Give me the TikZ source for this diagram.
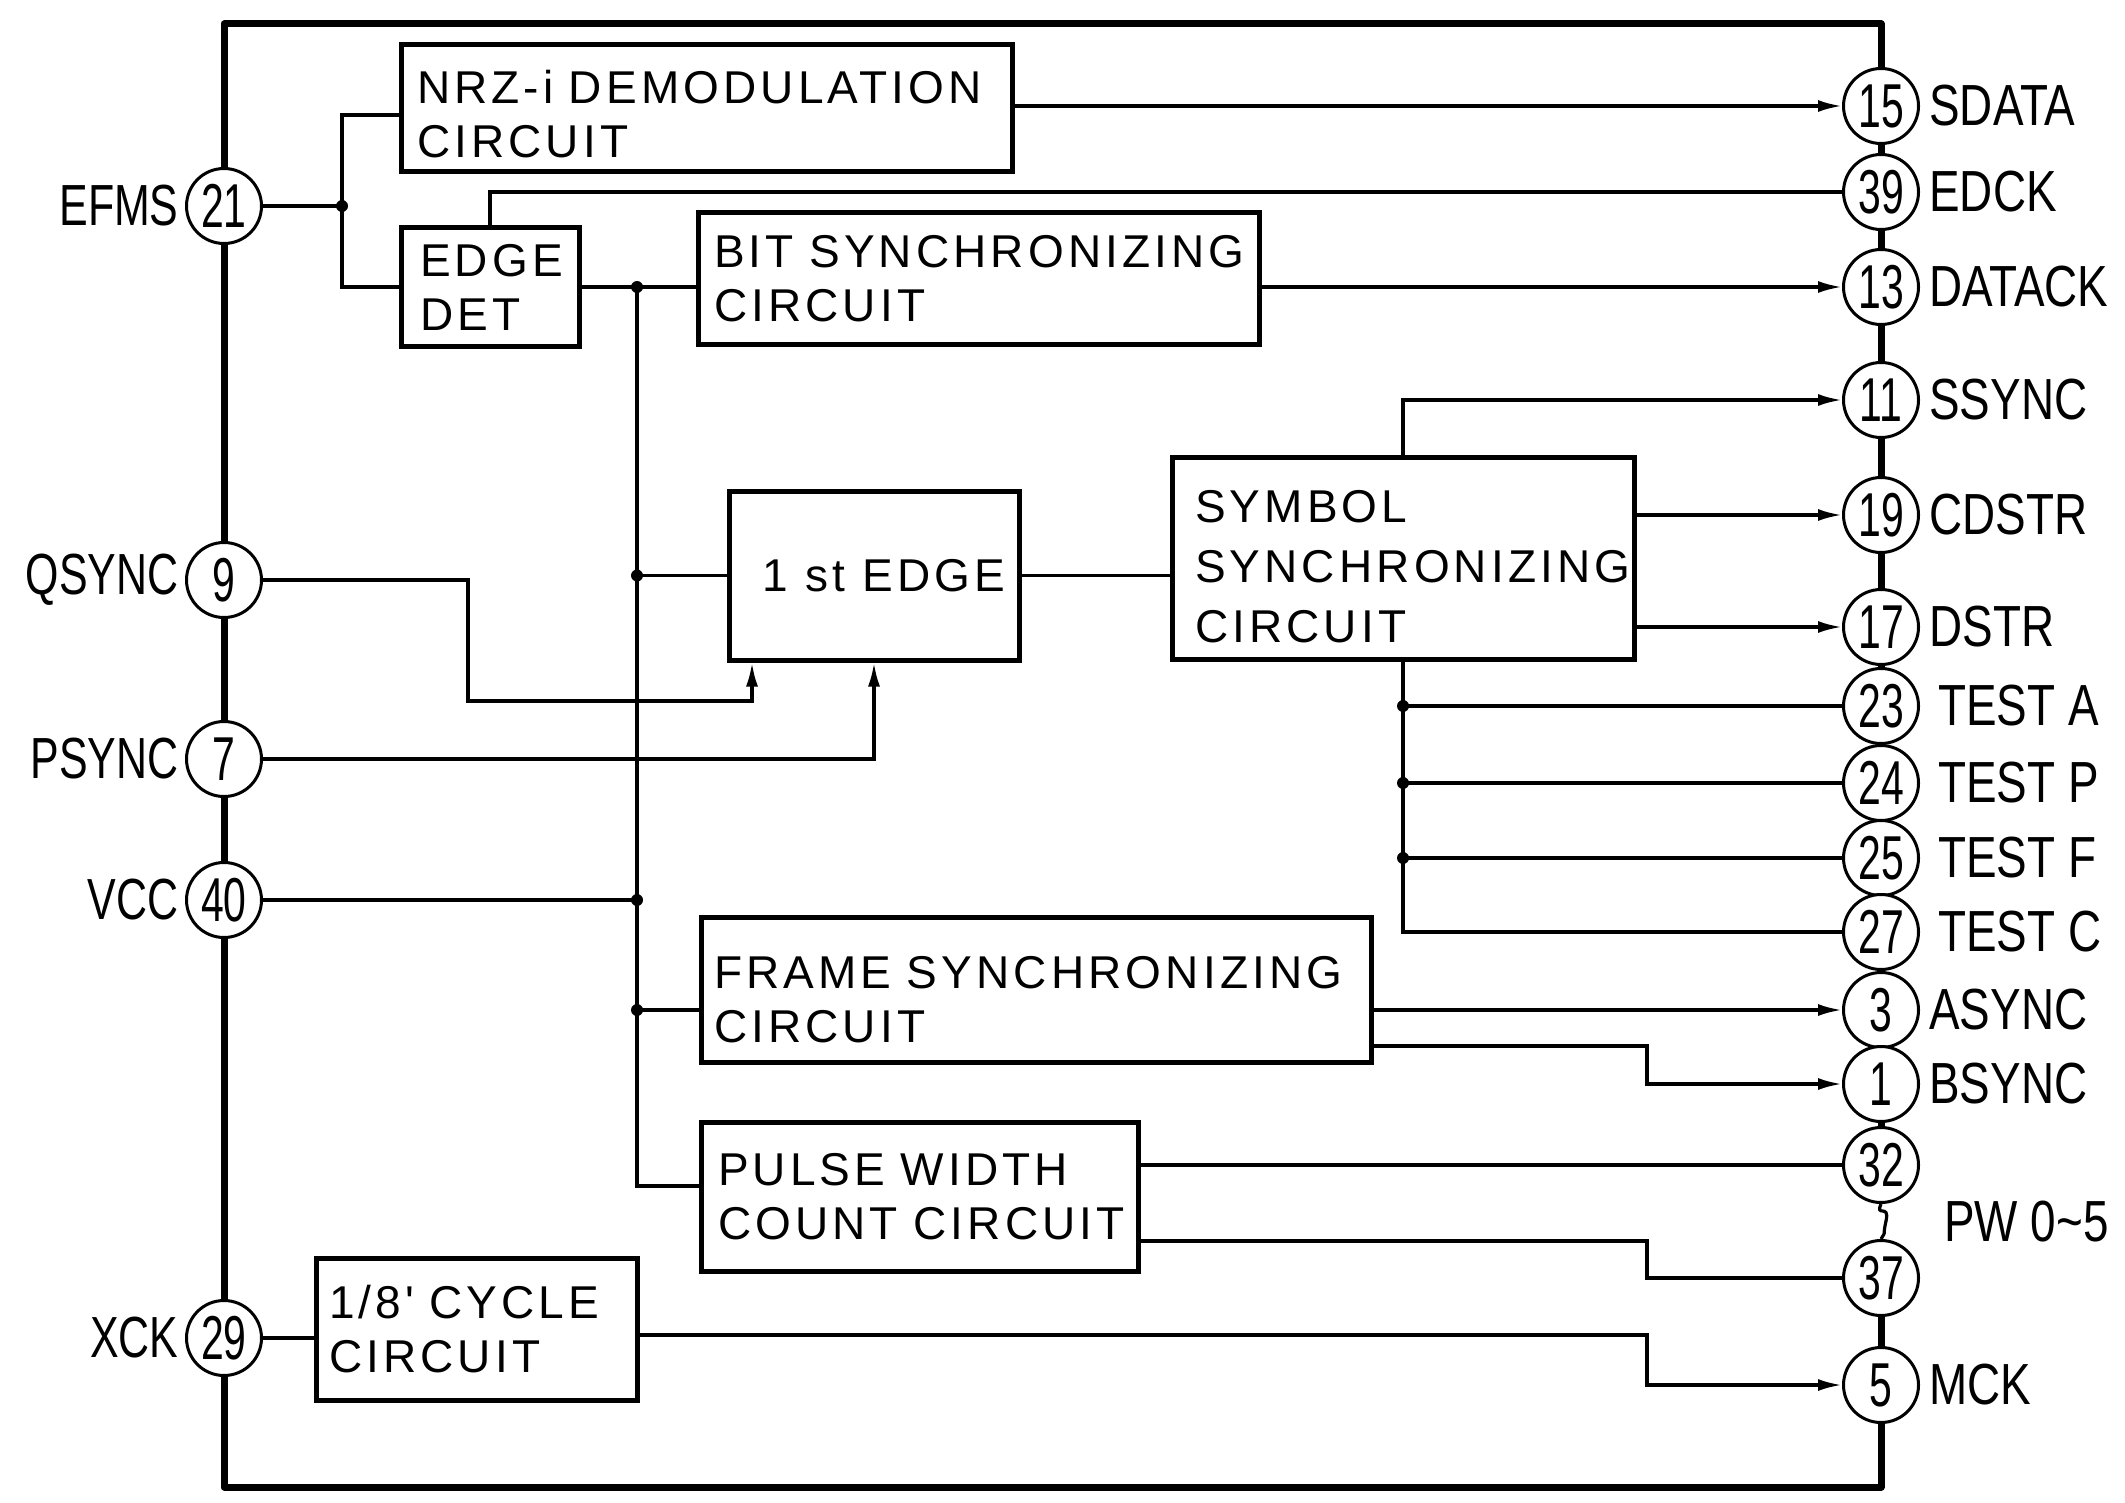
\documentclass[tikz,border=0pt]{standalone}
\usepackage{fontspec}
\setmainfont{Liberation Sans}
\newfontfamily\boxfont{Liberation Sans}[LetterSpace=9]
\newfontfamily\pinfont{Liberation Sans}[FakeStretch=0.79]
\newfontfamily\lpinfont{Liberation Sans}[FakeStretch=0.74]
\newfontfamily\numfont{Liberation Sans}[FakeStretch=0.66]
\usetikzlibrary{arrows.meta,calc}
\tikzset{
  frameline/.style={line width=3.5pt, line join=round},
  blk/.style={draw, line width=2.5pt, inner sep=0pt, align=left, font=\boxfont\fontsize{23}{27}\selectfont},
  pin/.style={circle, draw, fill=white, line width=1.5pt, minimum size=37.5pt, inner sep=0pt, font=\numfont\fontsize{31}{31}\selectfont},
  lbl/.style={inner sep=3pt, font=\pinfont\fontsize{29}{29}\selectfont},
  llbl/.style={inner sep=3pt, font=\lpinfont\fontsize{29}{29}\selectfont},
  wire/.style={line width=1.6pt},
  arr/.style={-{Latex[length=12pt,width=6pt]}},
}
\begin{document}
\begin{tikzpicture}[x=0.5pt,y=-0.5pt]
\useasboundingbox (0,0) rectangle (2125,1503);
\fill[white] (0,0) rectangle (2125,1503);

% package outline
\draw[frameline] (1881,1163) -- (1881,24) -- (224,24) -- (224,1487) -- (1881,1487) -- (1881,1278);

% left pins
\node[pin] (p21) at (224,206) {21};
\node[pin] (p9)  at (224,580) {9};
\node[pin] (p7)  at (224,759) {7};
\node[pin] (p40) at (224,900) {40};
\node[pin] (p29) at (224,1338) {29};
% right pins
\node[pin] (p15) at (1881,106) {15};
\node[pin] (p39) at (1881,192) {39};
\node[pin] (p13) at (1881,287) {13};
\node[pin] (p11) at (1881,400) {11};
\node[pin] (p19) at (1881,515) {19};
\node[pin] (p17) at (1881,627) {17};
\node[pin] (p23) at (1881,706) {23};
\node[pin] (p24) at (1881,783) {24};
\node[pin] (p25) at (1881,858) {25};
\node[pin] (p27) at (1881,932) {27};
\node[pin] (p3)  at (1881,1010) {3};
\node[pin] (p1)  at (1881,1084) {1};
\node[pin] (p32) at (1881,1165) {32};
\node[pin] (p37) at (1881,1278) {37};
\node[pin] (p5)  at (1881,1385) {5};
\draw[wire] (p32.south) .. controls +(-6,14) and +(4,-18) .. (1886,1221) .. controls +(-4,18) and +(6,-10) .. (p37.north);

% labels
\node[llbl, anchor=east] (lEFMS)  at (p21.west) {EFMS};
\node[llbl, anchor=east] (lQSYNC) at (p9.west) {QSYNC};
\node[llbl, anchor=east] (lPSYNC) at (p7.west) {PSYNC};
\node[llbl, anchor=east] (lVCC)   at (p40.west) {VCC};
\node[llbl, anchor=east] (lXCK)   at (p29.west) {XCK};
\node[lbl, anchor=west, xshift=1.5pt] (lSDATA) at (p15.east) {SDATA};
\node[lbl, anchor=west, xshift=1.5pt] (lEDCK)  at (p39.east) {EDCK};
\node[lbl, anchor=west, xshift=1.5pt] (lDATACK) at (p13.east) {DATACK};
\node[lbl, anchor=west, xshift=1.5pt] (lSSYNC) at (p11.east) {SSYNC};
\node[lbl, anchor=west, xshift=1.5pt] (lCDSTR) at (p19.east) {CDSTR};
\node[lbl, anchor=west, xshift=1.5pt] (lDSTR)  at (p17.east) {DSTR};
\node[lbl, anchor=west, xshift=6pt] (lTA) at (p23.east) {TEST A};
\node[lbl, anchor=west, xshift=6pt] (lTP) at (p24.east) {TEST P};
\node[lbl, anchor=west, xshift=6pt] (lTF) at (p25.east) {TEST F};
\node[lbl, anchor=west, xshift=6pt] (lTC) at (p27.east) {TEST C};
\node[lbl, anchor=west, xshift=1.5pt] (lASYNC) at (p3.east) {ASYNC};
\node[lbl, anchor=west, xshift=1.5pt] (lBSYNC) at (p1.east) {BSYNC};
\node[lbl, anchor=west] (lPW)    at (1938,1222) {PW 0\textasciitilde 5};
\node[lbl, anchor=west, xshift=1.5pt] (lMCK)   at (p5.east) {MCK};

% blocks
\node[blk, minimum width=305.5pt, minimum height=63.5pt, text width=289.5pt] (nrz) at (706.5,108.5) {\mbox{\rule{0pt}{22pt}NRZ-i DEMODULATION}\\\mbox{CIRCUIT}};
\node[blk, minimum width=89pt, minimum height=59pt, text width=70pt] (edge) at (490,287) {\mbox{EDGE}\\\mbox{DET}};
\node[blk, minimum width=280.5pt, minimum height=65.5pt, text width=264.5pt] (bit) at (978.5,278.5) {\mbox{BIT SYNCHRONIZING}\\\mbox{CIRCUIT}};
\node[blk, minimum width=145pt, minimum height=84.5pt, align=center] (e1) at (874,575.5) {\hspace*{10pt}1 st EDGE};
\node[blk, minimum width=231pt, minimum height=101pt, text width=208pt, font=\boxfont\fontsize{23}{30}\selectfont] (sym) at (1403,558) {\mbox{\rule{0pt}{24.5pt}SYMBOL}\\\mbox{SYNCHRONIZING}\\\mbox{CIRCUIT}};
\node[blk, minimum width=335pt, minimum height=72.5pt, text width=322pt] (fsync) at (1036,989.5) {\mbox{\rule{0pt}{26pt}FRAME SYNCHRONIZING}\\\mbox{CIRCUIT}};
\node[blk, minimum width=218.5pt, minimum height=74.5pt, text width=201.5pt] (pulse) at (919.5,1196.5) {\mbox{PULSE WIDTH}\\\mbox{COUNT CIRCUIT}};
\node[blk, minimum width=160.5pt, minimum height=71pt, text width=147.5pt] (cyc) at (476.5,1329) {\mbox{1/8' CYCLE}\\\mbox{CIRCUIT}};

% helper coordinates
\coordinate (jE) at (342,206);
\coordinate (yN) at (0,115);
\coordinate (jB) at (637,287);
\coordinate (yP) at (0,1186);
\coordinate (yF) at (0,1010);
\coordinate (q1) at (468,0);
\coordinate (yQ) at (0,701);
\coordinate (q2) at (752,0);
\coordinate (xB) at (1647,0);
\coordinate (yF2) at (0,1046);
\coordinate (yP2) at (0,1241);
\coordinate (yC) at (0,1335);
\coordinate (jQ) at (jB |- e1.west);
\coordinate (jV) at (jB |- p40);
\coordinate (jF) at (jB |- yF);

% connectors
\draw[wire] (p21) -- (jE);
\draw[wire] (nrz.west |- yN) -| (jE) |- (edge.west);
\draw[wire,arr] (nrz.east |- p15) -- (p15);
\draw[wire] (edge.north) |- (p39);
\draw[wire] (edge.east) -- (bit.west |- edge.east);
\draw[wire,arr] (bit.east |- p13) -- (p13);
\draw[wire] (jB) |- (pulse.west |- yP);
\draw[wire] (jQ) -- (e1.west);
\draw[wire] (p40) -- (jV);
\draw[wire] (jF) -- (fsync.west |- yF);
\draw[wire,arr] (p9) -| (q1 |- yQ) -| (q2 |- e1.south);
\draw[wire,arr] (p7) -| (e1.south);
\draw[wire] (e1.east) -- (sym.west |- e1.east);
\draw[wire,arr] (sym.north) |- (p11);
\draw[wire,arr] (sym.east |- p19) -- (p19);
\draw[wire,arr] (sym.east |- p17) -- (p17);
\draw[wire] (sym.south) |- (p27);
\foreach \p in {p23,p24,p25} {
  \draw[wire] (sym.south |- \p) -- (\p);
  \fill (sym.south |- \p) circle[radius=3pt];
}
\draw[wire,arr] (fsync.east |- p3) -- (p3);
\draw[wire,arr] (fsync.east |- yF2) -| (xB |- p1) -- (p1);
\draw[wire] (pulse.east |- p32) -- (p32);
\draw[wire] (pulse.east |- yP2) -| (xB |- p37) -- (p37);
\draw[wire] (p29) -- (cyc.west |- p29);
\draw[wire,arr] (cyc.east |- yC) -| (xB |- p5) -- (p5);

\foreach \c in {jE,jB,jQ,jV,jF} \fill (\c) circle[radius=3pt];
\end{tikzpicture}
\end{document}
